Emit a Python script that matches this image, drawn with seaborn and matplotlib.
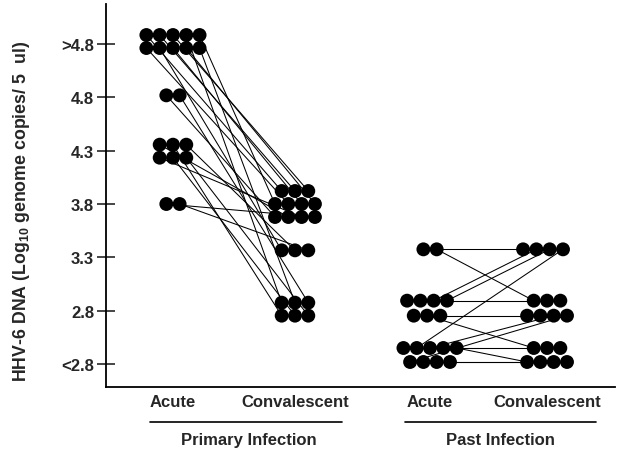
import numpy as np
import pandas as pd
import matplotlib
matplotlib.use("Agg")
import matplotlib.pyplot as plt
import seaborn as sns
from matplotlib.lines import Line2D

# ---------------- data ----------------
level_labels = ["<2.8", "2.8", "3.3", "3.8", "4.3", "4.8", ">4.8"]
group_labels = ["Acute", "Convalescent", "Acute", "Convalescent"]
infection_labels = ["Primary Infection", "Past Infection"]

# level index (0 = "<2.8" ... 6 = ">4.8") for each patient, paired acute -> convalescent
primary_acute = [6] * 10 + [5] * 2 + [4] * 6 + [3] * 2
primary_conv = [3, 3, 3, 1, 3, 3, 2, 3, 3, 1,
                3, 1,
                3, 1, 2, 3, 1, 1,
                3, 2]
past_acute = [2] * 2 + [1] * 7 + [0] * 9
past_conv = [2, 1,
             1, 1, 2, 2, 1, 0, 1,
             0, 2, 1, 0, 0, 1, 0, 0, 0]

# ---------------- layout (cluster packing) ----------------
group_x = [1.0, 2.0, 3.107, 4.066]
px_x = 1 / 122.0     # data units per pixel, x
px_y = 1 / 53.33     # data units per pixel, y
dot_dx = 13.3 * px_x

# rows per (group, level): list of (dots in row, row offset in px above tick, x shift px)
cluster_rows = {
    (0, 6): [(5, 9, 0), (5, -4, 0)],
    (0, 5): [(2, 2, 0)],
    (0, 4): [(3, 6, 0), (3, -7, 0)],
    (0, 3): [(2, 0, 0)],
    (1, 3): [(3, 13, 0), (4, 0, 0), (4, -13, 0)],
    (1, 2): [(3, 7, 0)],
    (1, 1): [(3, 8, 0), (3, -5, 0)],
    (2, 2): [(2, 8, 0)],
    (2, 1): [(4, 10, -3), (3, -5, -3)],
    (2, 0): [(5, 16, 0), (4, 2, 0)],
    (3, 2): [(4, 8, -4)],
    (3, 1): [(3, 10, 0), (4, -5, 0)],
    (3, 0): [(3, 16, 0), (4, 2, 0)],
}


def slots(g, lev):
    out = []
    for n, off, sh in cluster_rows[(g, lev)]:
        for i in range(n):
            out.append((group_x[g] + sh * px_x + (i - (n - 1) / 2) * dot_dx, lev + off * px_y))
    return out


rows = []
sid = 0
for (ga, gc, acute, conv) in [(0, 1, primary_acute, primary_conv), (2, 3, past_acute, past_conv)]:
    n = len(acute)
    ids = list(range(sid, sid + n))
    sid += n
    used = {}
    for k in range(n):
        lev = acute[k]
        sl = slots(ga, lev)
        j = used.get(lev, 0)
        used[lev] = j + 1
        x, y = sl[j]
        rows.append(dict(subject=ids[k], side=0, x=x, y=y))
    order = sorted(range(n), key=lambda k: (-acute[k], k))
    used = {}
    for k in order:
        lev = conv[k]
        sl = slots(gc, lev)
        j = used.get(lev, 0)
        used[lev] = j + 1
        x, y = sl[j]
        rows.append(dict(subject=ids[k], side=1, x=x, y=y))

df = pd.DataFrame(rows).sort_values(["subject", "side"])

# ---------------- plot ----------------
sns.set_style("white")
plt.rcParams["font.family"] = ["Liberation Sans", "DejaVu Sans"]
plt.rcParams["mathtext.fontset"] = "custom"
plt.rcParams["mathtext.bf"] = "Liberation Sans:bold"
plt.rcParams["mathtext.rm"] = "Liberation Sans:bold"
plt.rcParams["mathtext.default"] = "bf"

fig = plt.figure(figsize=(6.28, 4.52), dpi=100)
W, H = 628, 452
ax = fig.add_axes([106 / W, (H - 388) / H, (615 - 106) / W, (388 - 5) / H])

sns.lineplot(data=df, x="x", y="y", units="subject", estimator=None, sort=False,
             color="black", lw=0.75, ax=ax, legend=False, zorder=2)
sns.scatterplot(data=df, x="x", y="y", s=100, color="black", edgecolor="none",
                ax=ax, legend=False, zorder=3, clip_on=False)

ax.set_xlim(0.451, 4.623)
ax.set_ylim((365 - 388) * px_y, (365 - 5) * px_y)

ax.set_yticks(range(len(level_labels)))
ax.set_yticklabels(level_labels, fontsize=12, fontweight="bold")
ax.tick_params(axis="y", direction="inout", length=13, width=1.2, pad=2, left=True)

ax.set_xticks(group_x)
ax.set_xticklabels(group_labels, fontsize=12, fontweight="bold")
ax.tick_params(axis="x", length=0, pad=5)

for s in ["top", "right"]:
    ax.spines[s].set_visible(False)
for s in ["left", "bottom"]:
    ax.spines[s].set_linewidth(1.3)
    ax.spines[s].set_color("black")

ax.set_xlabel("")
ax.set_ylabel(r"HHV-6 DNA (Log$_{10}$ genome copies/ 5  ul)", fontsize=12.8, fontweight="bold")
ax.yaxis.set_label_coords((32 - 106) / 509, 0.46)

# group underlines & labels
for (x0, x1), lab, xc in zip([(150, 342), (405, 596)], infection_labels, [249, 500]):
    fig.add_artist(Line2D([x0 / W, x1 / W], [(H - 423) / H] * 2, color="black", lw=1.2))
    fig.text(xc / W, (H - 441) / H, lab, ha="center", va="center",
             fontsize=12, fontweight="bold")

fig.savefig("out.png", dpi=100, facecolor="white")
